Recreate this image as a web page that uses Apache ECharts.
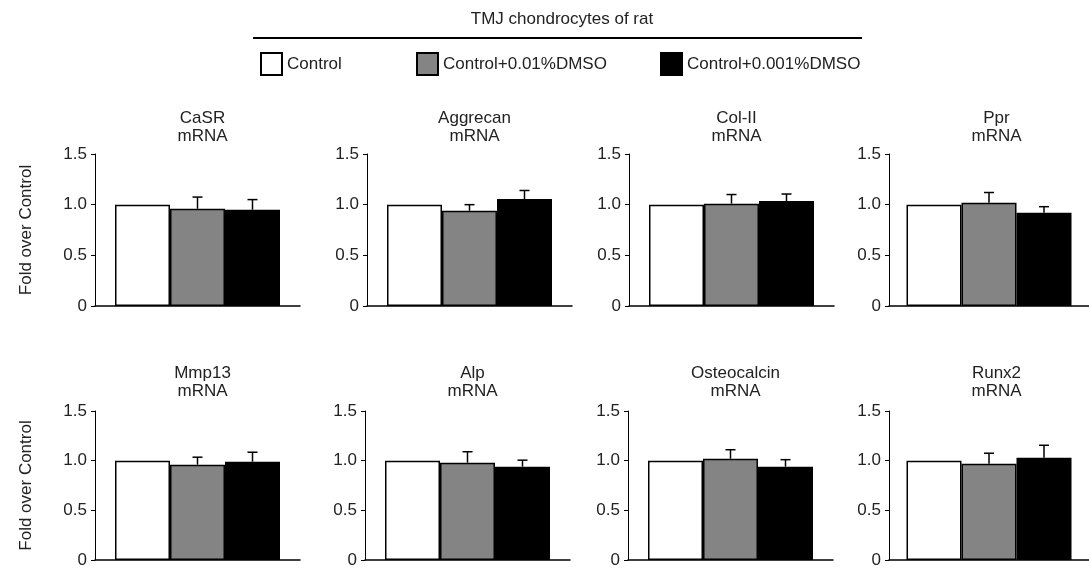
<!DOCTYPE html>
<html>
<head>
<meta charset="utf-8">
<script src="https://cdn.jsdelivr.net/npm/echarts@6/dist/echarts.min.js"></script>
<style>html,body{margin:0;padding:0;background:#fff}#c{width:1089px;height:572px}</style>
</head>
<body>
<div id="c"></div>
<script>
// ---- data ----
const panels = ['CaSR', 'Aggrecan', 'Col-II', 'Ppr', 'Mmp13', 'Alp', 'Osteocalcin', 'Runx2'];
const seriesNames = ['Control', 'Control+0.01%DMSO', 'Control+0.001%DMSO'];
const control = [1, 1, 1, 1, 1, 1, 1, 1];
const dmso01 = [0.96, 0.94, 1.01, 1.02, 0.96, 0.98, 1.02, 0.97];
const dmso001 = [0.95, 1.055, 1.035, 0.92, 0.99, 0.94, 0.94, 1.03];
const dmso01Sd = [0.115, 0.06, 0.09, 0.10, 0.075, 0.11, 0.09, 0.105];
const dmso001Sd = [0.10, 0.085, 0.07, 0.06, 0.095, 0.065, 0.07, 0.125];
const yTicks = ['0', '0.5', '1.0', '1.5'];
const mainTitle = 'TMJ chondrocytes of rat';
const yName = 'Fold over Control';

// ---- layout / style ----
const FONT = 'Liberation Sans, Arial, Helvetica, sans-serif';
const FS = 17;
const TXT = '#222';
const colors = ['#ffffff', '#848484', '#000000'];
const BAR_W = 55;
const GRID_W = 205;
const gridLefts = [95, 367, 629, 889, 95, 365, 628, 889];
const rowTop = [154, 411];
const rowH = [152, 149];
const titleTop = [104, 359];

const values = [control, dmso01, dmso001];
const sds = [null, dmso01Sd, dmso001Sd];

const grid = [], xAxis = [], yAxis = [], series = [], titles = [];
titles.push({
  text: mainTitle, left: 557, top: 6, textAlign: 'center',
  textStyle: {fontFamily: FONT, fontSize: FS, fontWeight: 'normal', color: TXT}
});
panels.forEach((p, k) => {
  const row = k < 4 ? 0 : 1;
  grid.push({left: gridLefts[k], top: rowTop[row], width: GRID_W, height: rowH[row]});
  xAxis.push({
    type: 'category', gridIndex: k, data: [p],
    axisLine: {lineStyle: {color: '#000', width: 1.5}},
    axisTick: {show: false}, axisLabel: {show: false}
  });
  yAxis.push({
    type: 'value', gridIndex: k, min: 0, max: 1.5, interval: 0.5,
    name: (k % 4 === 0) ? yName : '',
    nameLocation: 'middle', nameGap: 60, nameRotate: 90,
    nameTextStyle: {fontFamily: FONT, fontSize: FS, color: TXT},
    axisLine: {show: true, lineStyle: {color: '#000', width: 1}},
    axisTick: {show: true, length: 4, lineStyle: {color: '#000'}},
    splitLine: {show: false},
    axisLabel: {
      margin: 8, fontFamily: FONT, fontSize: FS, color: TXT,
      formatter: v => yTicks[Math.round(v / 0.5)]
    }
  });
  titles.push({
    text: p + '\nmRNA', left: gridLefts[k] + GRID_W / 2, top: titleTop[row], textAlign: 'center',
    textStyle: {fontFamily: FONT, fontSize: FS, fontWeight: 'normal', color: TXT, lineHeight: 18}
  });
  seriesNames.forEach((n, i) => {
    series.push({
      type: 'bar', name: n, xAxisIndex: k, yAxisIndex: k,
      data: [values[i][k]], barWidth: BAR_W, barGap: '0%',
      itemStyle: {color: colors[i], borderColor: '#000', borderWidth: 1.5},
      emphasis: {disabled: true}, animation: false
    });
  });
  const errData = [];
  [1, 2].forEach(i => errData.push([0, values[i][k], values[i][k] + sds[i][k], i]));
  series.push({
    type: 'custom', xAxisIndex: k, yAxisIndex: k, z: 10, animation: false,
    data: errData,
    renderItem: (params, api) => {
      const base = api.coord([api.value(0), api.value(1)]);
      const top = api.coord([api.value(0), api.value(2)]);
      const x = base[0] + (api.value(3) - 1) * BAR_W;
      const st = {stroke: '#000', lineWidth: 1.5};
      return {type: 'group', children: [
        {type: 'line', shape: {x1: x, y1: base[1], x2: x, y2: top[1]}, style: st},
        {type: 'line', shape: {x1: x - 5, y1: top[1], x2: x + 5, y2: top[1]}, style: st}
      ]};
    }
  });
});

const legendLefts = [255, 411, 655];
const legend = seriesNames.map((n, i) => ({
  data: [n], left: legendLefts[i], top: 47, icon: 'rect',
  itemWidth: 21, itemHeight: 22, itemGap: 8, selectedMode: false,
  textStyle: {fontFamily: FONT, fontSize: FS, color: TXT, padding: [0, 0, 0, 0]}
}));

const chart = echarts.init(document.getElementById('c'), null, {renderer: 'canvas'});
chart.setOption({
  backgroundColor: '#fff',
  animation: false,
  title: titles,
  legend: legend,
  grid: grid, xAxis: xAxis, yAxis: yAxis, series: series,
  graphic: [{type: 'line', shape: {x1: 253, y1: 38, x2: 862, y2: 38}, style: {stroke: '#000', lineWidth: 2}}]
});
</script>
</body>
</html>
